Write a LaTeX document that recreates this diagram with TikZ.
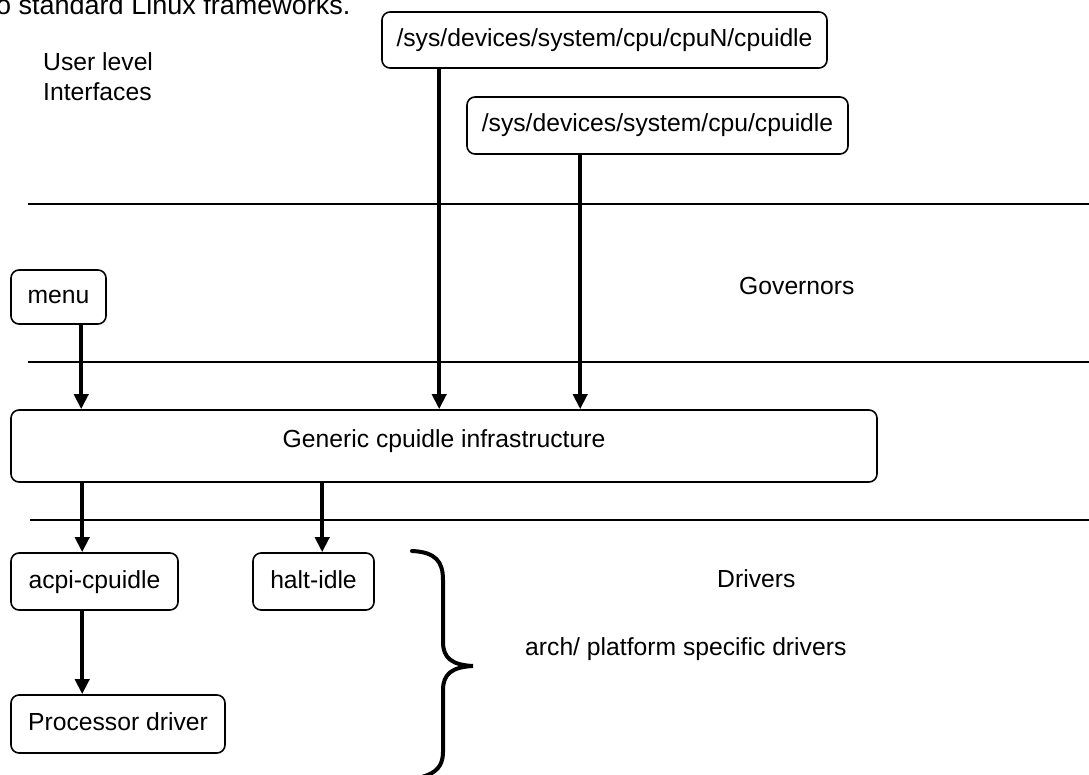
\documentclass[tikz,border=0pt]{standalone}
\usepackage{fontspec}
\setmainfont{Liberation Sans}
\usetikzlibrary{arrows.meta}
\newcommand{\lblfont}{\fontsize{24.7}{30}\selectfont}
\newcommand{\headfont}{\fontsize{27}{32}\selectfont}

\begin{document}
\begin{tikzpicture}[x=1pt,y=-1pt,
  box/.style={draw,line width=1.6pt,rounded corners=8pt,inner sep=0pt,
              text height=18pt,text depth=5pt,font=\lblfont},
  lbl/.style={inner sep=0pt,font=\lblfont},
  arr/.style={line width=4.5pt,-{Triangle[length=15pt,width=14pt]}},
  rule/.style={line width=2pt},
  brace/.style={line width=4pt,line cap=round}]

\useasboundingbox (0,0) rectangle (1089,775);
\clip (0,0) rectangle (1089,775);

% layer separators
\draw[rule] (28,204) -- (1089,204);
\draw[rule] (28,362) -- (1089,362);
\draw[rule] (30,520) -- (1089,520);

% headline cut at the top edge
\node[inner sep=0pt,font=\headfont,anchor=base west] (head) at (-4,15) {o standard Linux frameworks.};

% layer names
\node[lbl,anchor=north west,align=left] (ulevel) at (43,52) {User level\\Interfaces};
\node[lbl,anchor=base west] (gov) at (739,295) {Governors};
\node[lbl,anchor=base west] (drv) at (717,587) {Drivers};
\node[lbl,anchor=base west] (arch) at (525,655) {arch/ platform specific drivers};

% boxes
\node[box,minimum width=445pt,minimum height=56pt] (sysN) at (604.5,40) {/sys/devices/system/cpu/cpuN/cpuidle};
\node[box,minimum width=381pt,minimum height=57pt] (sysC) at (657.5,125.5) {/sys/devices/system/cpu/cpuidle};
\node[box,minimum width=95pt,minimum height=54pt] (menu) at (58.5,297) {menu};
\node[box,minimum width=866pt,minimum height=72pt,text depth=16pt] (gen) at (444,446) {Generic cpuidle infrastructure};
\node[box,minimum width=167pt,minimum height=57pt] (acpi) at (94.5,581.5) {acpi-cpuidle};
\node[box,minimum width=121pt,minimum height=57pt] (halt) at (313.5,581.5) {halt-idle};
\node[box,minimum width=214pt,minimum height=58pt] (proc) at (118,724) {Processor driver};

% connectors
\draw[arr] ([xshift=58pt]sysN.south west) -- ([xshift=58pt]sysN.south west |- gen.north);
\draw[arr] ([xshift=114pt]sysC.south west) -- ([xshift=114pt]sysC.south west |- gen.north);
\draw[arr] ([xshift=71pt]menu.south west) -- ([xshift=71pt]menu.south west |- gen.north);
\draw[arr] ([xshift=72pt]gen.south west) -- ([xshift=72pt]gen.south west |- acpi.north);
\draw[arr] ([xshift=312pt]gen.south west) -- ([xshift=312pt]gen.south west |- halt.north);
\draw[arr] ([xshift=72pt]acpi.south west) -- ([xshift=72pt]acpi.south west |- proc.north);

% brace grouping the drivers
\draw[brace] (412,551) .. controls (436,552) and (443,562) .. (443,580)
  -- (443,642) .. controls (443,658) and (452,665) .. (473,666)
  .. controls (452,667) and (443,674) .. (443,690)
  -- (443,752) .. controls (443,766) and (436,773) .. (422,777);
\end{tikzpicture}
\end{document}
